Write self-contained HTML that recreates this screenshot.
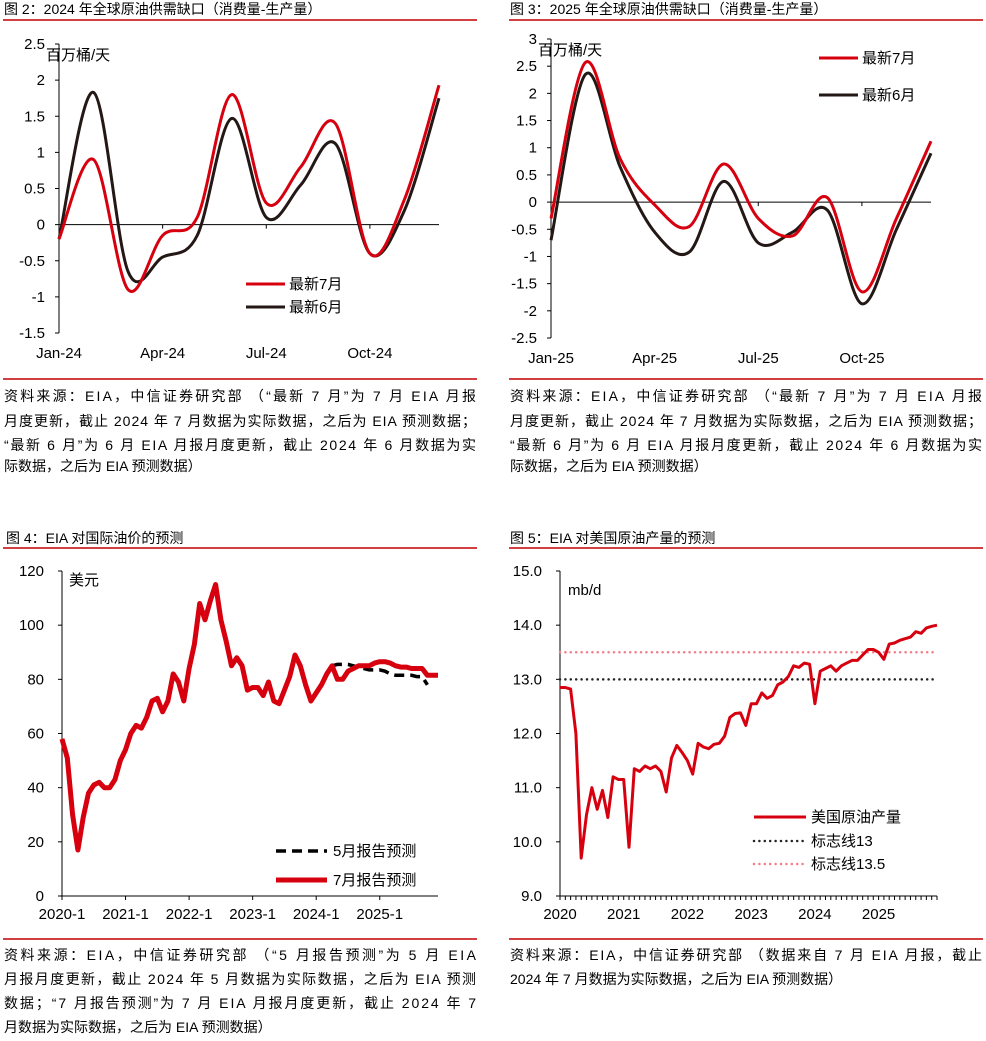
<!DOCTYPE html>
<html><head><meta charset="utf-8"><style>
html,body{margin:0;padding:0;background:#fff;}
svg{display:block;font-family:"Liberation Sans","Noto Sans CJK SC",sans-serif;}
</style></head><body>
<svg id="s" width="986" height="1041" viewBox="0 0 986 1041" xmlns="http://www.w3.org/2000/svg">
<g font-size="14" fill="#000">
<text x="4" y="14">图 2：2024 年全球原油供需缺口（消费量-生产量）</text>
<text x="510" y="14">图 3：2025 年全球原油供需缺口（消费量-生产量）</text>
<text x="6" y="543">图 4：EIA 对国际油价的预测</text>
<text x="510" y="543">图 5：EIA 对美国原油产量的预测</text>
</g>
<g stroke="#c00000" stroke-width="1.5">
<line x1="3" y1="20" x2="477" y2="20"/><line x1="509" y1="20" x2="983" y2="20"/>
<line x1="3" y1="379" x2="477" y2="379"/><line x1="509" y1="379" x2="983" y2="379"/>
<line x1="3" y1="548" x2="477" y2="548"/><line x1="509" y1="548" x2="983" y2="548"/>
<line x1="3" y1="939" x2="477" y2="939"/><line x1="509" y1="939" x2="983" y2="939"/>
</g>
<g font-size="14" fill="#000">
<text x="4" y="401" textLength="472" lengthAdjust="spacing">资料来源：EIA，中信证券研究部 （“最新 7 月”为 7 月 EIA 月报</text>
<text x="4" y="426" textLength="472" lengthAdjust="spacing">月度更新，截止 2024 年 7 月数据为实际数据，之后为 EIA 预测数据；</text>
<text x="4" y="450" textLength="472" lengthAdjust="spacing">“最新 6 月”为 6 月 EIA 月报月度更新，截止 2024 年 6 月数据为实</text>
<text x="4" y="471">际数据，之后为 EIA 预测数据）</text>
<text x="510" y="401" textLength="472" lengthAdjust="spacing">资料来源：EIA，中信证券研究部 （“最新 7 月”为 7 月 EIA 月报</text>
<text x="510" y="426" textLength="472" lengthAdjust="spacing">月度更新，截止 2024 年 7 月数据为实际数据，之后为 EIA 预测数据；</text>
<text x="510" y="450" textLength="472" lengthAdjust="spacing">“最新 6 月”为 6 月 EIA 月报月度更新，截止 2024 年 6 月数据为实</text>
<text x="510" y="471">际数据，之后为 EIA 预测数据）</text>
<text x="4" y="960" textLength="472" lengthAdjust="spacing">资料来源：EIA，中信证券研究部 （“5 月报告预测”为 5 月 EIA</text>
<text x="4" y="984" textLength="472" lengthAdjust="spacing">月报月度更新，截止 2024 年 5 月数据为实际数据，之后为 EIA 预测</text>
<text x="4" y="1008" textLength="472" lengthAdjust="spacing">数据；“7 月报告预测”为 7 月 EIA 月报月度更新，截止 2024 年 7</text>
<text x="4" y="1032">月数据为实际数据，之后为 EIA 预测数据）</text>
<text x="510" y="960" textLength="472" lengthAdjust="spacing">资料来源：EIA，中信证券研究部 （数据来自 7 月 EIA 月报，截止</text>
<text x="510" y="984">2024 年 7 月数据为实际数据，之后为 EIA 预测数据）</text>
</g>
<g id="c2"></g>
<g id="c3"></g>
<g id="c4"></g>
<g id="c5"></g>
</svg>
<script>
const gap24Months = ["Jan-24","Apr-24","Jul-24","Oct-24"];
const gap24Jul = [-0.2,0.9,-0.9,-0.15,0.1,1.8,0.3,0.8,1.4,-0.4,0.35,1.93];
const gap24Jun = [-0.2,1.83,-0.65,-0.45,-0.15,1.47,0.1,0.55,1.12,-0.4,0.2,1.75];
const gap24Ticks = [2.5,2,1.5,1,0.5,0,-0.5,-1,-1.5];
const gap25Months = ["Jan-25","Apr-25","Jul-25","Oct-25"];
const gap25Jul = [-0.3,2.57,0.8,-0.05,-0.45,0.7,-0.3,-0.62,0.08,-1.65,-0.3,1.12];
const gap25Jun = [-0.7,2.35,0.65,-0.55,-0.92,0.38,-0.75,-0.55,-0.15,-1.87,-0.5,0.9];
const gap25Ticks = [3,2.5,2,1.5,1,0.5,0,-0.5,-1,-1.5,-2,-2.5];
const priceYears = ["2020-1","2021-1","2022-1","2023-1","2024-1","2025-1"];
const priceJul = [58,51,30,17,29,38,41,42,40,40,43,50,
 54,60,63,62,66,72,73,68,72,82,79,72,
 84,93,108,102,109,115,102,94,85,88,85,76,
 77,77,74,79,72,71,76,81,89,85,78,72,
 75,78,82,85,80,80,83,84,85,85,85,86,
 86.5,86.5,86,85,84.5,84.5,84,84,84,81.5,81.5,81.5];
const priceMayStart = 51;
const priceMay = [85,85.5,85.5,85.5,85,84.5,84,83.5,83.5,83.5,83,82,81.5,81.5,81.5,81.5,81,81,78];
const priceTicks = [0,20,40,60,80,100,120];
const prodYears = ["2020","2021","2022","2023","2024","2025"];
const prodUS = [12.85,12.85,12.82,12.0,9.7,10.5,11.0,10.6,10.95,10.45,11.2,11.15,
 11.15,9.9,11.35,11.3,11.4,11.35,11.4,11.3,10.92,11.55,11.78,11.65,
 11.5,11.25,11.82,11.75,11.72,11.8,11.82,11.95,12.3,12.37,12.38,12.15,
 12.55,12.55,12.75,12.65,12.7,12.9,12.95,13.05,13.25,13.22,13.3,13.28,
 12.55,13.15,13.2,13.25,13.15,13.25,13.3,13.35,13.35,13.45,13.55,13.55,
 13.5,13.37,13.65,13.67,13.72,13.75,13.78,13.88,13.85,13.95,13.98,14.0];
const prodTicks = ["9.0","10.0","11.0","12.0","13.0","14.0","15.0"];
const refLines = [13,13.5];

const NS="http://www.w3.org/2000/svg";
function mk(parent,tag,attrs,txt){const e=document.createElementNS(NS,tag);for(const k in attrs)e.setAttribute(k,attrs[k]);if(txt!==undefined)e.textContent=txt;parent.appendChild(e);return e;}
function smooth(pts){let d="M"+pts[0][0]+","+pts[0][1];for(let i=0;i<pts.length-1;i++){const p0=pts[i-1]||pts[i],p1=pts[i],p2=pts[i+1],p3=pts[i+2]||p2;
const c1=[p1[0]+(p2[0]-p0[0])/6,p1[1]+(p2[1]-p0[1])/6],c2=[p2[0]-(p3[0]-p1[0])/6,p2[1]-(p3[1]-p1[1])/6];
d+=" C"+c1[0].toFixed(1)+","+c1[1].toFixed(1)+" "+c2[0].toFixed(1)+","+c2[1].toFixed(1)+" "+p2[0].toFixed(1)+","+p2[1].toFixed(1);}return d;}
function poly(pts){return "M"+pts.map(p=>p[0].toFixed(1)+","+p[1].toFixed(1)).join(" L");}

function gapChart(g,cfg){
 const {x0,x1,yTop,yBot,vTop,vBot,ticks,months,s1,s2}=cfg;
 const ys=v=>yTop+(vTop-v)*(yBot-yTop)/(vTop-vBot);
 const xs=i=>x0+i*(x1-x0)/11;
 let e=mk(g,'line',{x1:x0,y1:yTop,x2:x0,y2:yBot,stroke:'#000','stroke-width':1});
 
 
 e=mk(g,'line',{x1:x0,y1:ys(0),x2:x1,y2:ys(0),stroke:'#000','stroke-width':1});
 
 
 ticks.forEach(t=>{mk(g,'line',{x1:x0-4,y1:ys(t),x2:x0,y2:ys(t),stroke:'#000'});
  e=mk(g,'text',{x:x0-14,y:ys(t)+5,'text-anchor':'end','font-size':15},String(t));
  
  });
 months.forEach((m,k)=>{const x=xs(k*3);if(k>0)mk(g,'line',{x1:x,y1:ys(0),x2:x,y2:ys(0)+4,stroke:'#000'});
  e=mk(g,'text',{x:x,y:cfg.labY,'text-anchor':'middle','font-size':15},m);
  
  });
 e=mk(g,'text',{x:x0-13,y:yTop+16,'font-size':15},'百万桶/天');
 
 
 e=mk(g,'path',{d:smooth(s2.map((v,i)=>[xs(i),ys(v)])),fill:'none',stroke:'#231815','stroke-width':3});
 
 
 e=mk(g,'path',{d:smooth(s1.map((v,i)=>[xs(i),ys(v)])),fill:'none',stroke:'#d7000f','stroke-width':3});
 
 
 const L=cfg.leg;
 e=mk(g,'line',{x1:L.x,y1:L.y1,x2:L.x+39,y2:L.y1,stroke:'#d7000f','stroke-width':3});
 
 
 e=mk(g,'text',{x:L.x+43,y:L.y1+5,'font-size':15},'最新7月');
 
 
 e=mk(g,'line',{x1:L.x,y1:L.y2,x2:L.x+39,y2:L.y2,stroke:'#231815','stroke-width':3});
 
 
 e=mk(g,'text',{x:L.x+43,y:L.y2+5,'font-size':15},'最新6月');
 
 
}
gapChart(document.getElementById('c2'),{x0:59,x1:439,yTop:44,yBot:333,vTop:2.5,vBot:-1.5,ticks:gap24Ticks,months:gap24Months,s1:gap24Jul,s2:gap24Jun,labY:358,leg:{x:246,y1:284,y2:307}});
gapChart(document.getElementById('c3'),{x0:551,x1:931,yTop:39,yBot:338,vTop:3,vBot:-2.5,ticks:gap25Ticks,months:gap25Months,s1:gap25Jul,s2:gap25Jun,labY:363,leg:{x:819,y1:58,y2:95}});

// chart 4
(function(){
 const g=document.getElementById('c4');
 const x0=62,x1=438,yTop=571,yBot=896;
 const xs=i=>x0+i*(x1-x0)/71, ys=v=>yBot-v*(yBot-yTop)/120;
 let e=mk(g,'line',{x1:x0,y1:yTop,x2:x0,y2:yBot,stroke:'#000'});
 
 
 e=mk(g,'line',{x1:x0,y1:yBot,x2:x1,y2:yBot,stroke:'#000'});
 
 
 priceTicks.forEach(t=>{mk(g,'line',{x1:x0-4,y1:ys(t),x2:x0,y2:ys(t),stroke:'#000'});
  e=mk(g,'text',{x:x0-18,y:ys(t)+5,'text-anchor':'end','font-size':15},String(t));
  
  });
 priceYears.forEach((y,k)=>{const x=xs(k*12);mk(g,'line',{x1:x,y1:yBot,x2:x,y2:yBot+4,stroke:'#000'});
  e=mk(g,'text',{x:x,y:919,'text-anchor':'middle','font-size':15},y);
  
  });
 e=mk(g,'text',{x:69,y:585,'font-size':15},'美元');
 
 
 e=mk(g,'path',{d:poly(priceMay.map((v,i)=>[xs(priceMayStart+i),ys(v)])),fill:'none',stroke:'#000','stroke-width':3.5,'stroke-dasharray':'10,6'});
 
 
 e=mk(g,'path',{d:poly(priceJul.map((v,i)=>[xs(i),ys(v)])),fill:'none',stroke:'#d7000f','stroke-width':5,'stroke-linejoin':'round'});
 
 
 e=mk(g,'line',{x1:276,y1:851,x2:327,y2:851,stroke:'#000','stroke-width':3.5,'stroke-dasharray':'10,6'});
 
 
 e=mk(g,'text',{x:333,y:856,'font-size':15},'5月报告预测');
 
 
 e=mk(g,'line',{x1:276,y1:880,x2:327,y2:880,stroke:'#d7000f','stroke-width':5});
 
 
 e=mk(g,'text',{x:333,y:885,'font-size':15},'7月报告预测');
 
 
})();

// chart 5
(function(){
 const g=document.getElementById('c5');
 const x0=560,x1=937,yTop=571,yBot=896;
 const xs=i=>x0+i*(x1-x0)/71, ys=v=>yBot-(v-9)*(yBot-yTop)/6;
 let e=mk(g,'line',{x1:x0,y1:yTop,x2:x0,y2:yBot,stroke:'#000'});
 
 
 e=mk(g,'line',{x1:x0,y1:yBot,x2:x1,y2:yBot,stroke:'#000'});
 
 
 prodTicks.forEach(t=>{const v=parseFloat(t);mk(g,'line',{x1:x0-4,y1:ys(v),x2:x0,y2:ys(v),stroke:'#000'});
  e=mk(g,'text',{x:x0-18,y:ys(v)+5,'text-anchor':'end','font-size':15},t);
  
  });
 for(let i=0;i<prodUS.length;i++){mk(g,'line',{x1:xs(i),y1:yBot,x2:xs(i),y2:yBot+4,stroke:'#000'});}
 prodYears.forEach((y,k)=>{e=mk(g,'text',{x:xs(k*12),y:919,'text-anchor':'middle','font-size':15},y);
  
  });
 e=mk(g,'text',{x:568,y:595,'font-size':15},'mb/d');
 
 
 e=mk(g,'line',{x1:x0,y1:ys(refLines[0]),x2:x1,y2:ys(refLines[0]),stroke:'#222','stroke-width':2.5,'stroke-dasharray':'0,5.4','stroke-linecap':'round'});
 
 
 e=mk(g,'line',{x1:x0,y1:ys(refLines[1]),x2:x1,y2:ys(refLines[1]),stroke:'#f47c86','stroke-width':2.5,'stroke-dasharray':'0,5.4','stroke-linecap':'round'});
 
 
 e=mk(g,'path',{d:poly(prodUS.map((v,i)=>[xs(i),ys(v)])),fill:'none',stroke:'#d7000f','stroke-width':3,'stroke-linejoin':'round'});
 
 
 e=mk(g,'line',{x1:754,y1:817,x2:806,y2:817,stroke:'#d7000f','stroke-width':3});
 
 
 e=mk(g,'text',{x:811,y:822,'font-size':15},'美国原油产量');
 
 
 e=mk(g,'line',{x1:754,y1:841,x2:806,y2:841,stroke:'#222','stroke-width':2.5,'stroke-dasharray':'0,5.4','stroke-linecap':'round'});
 
 
 e=mk(g,'text',{x:811,y:846,'font-size':15},'标志线13');
 
 
 e=mk(g,'line',{x1:754,y1:864,x2:806,y2:864,stroke:'#f47c86','stroke-width':2.5,'stroke-dasharray':'0,5.4','stroke-linecap':'round'});
 
 
 e=mk(g,'text',{x:811,y:869,'font-size':15},'标志线13.5');
 
 
})();
</script>
</body></html>
